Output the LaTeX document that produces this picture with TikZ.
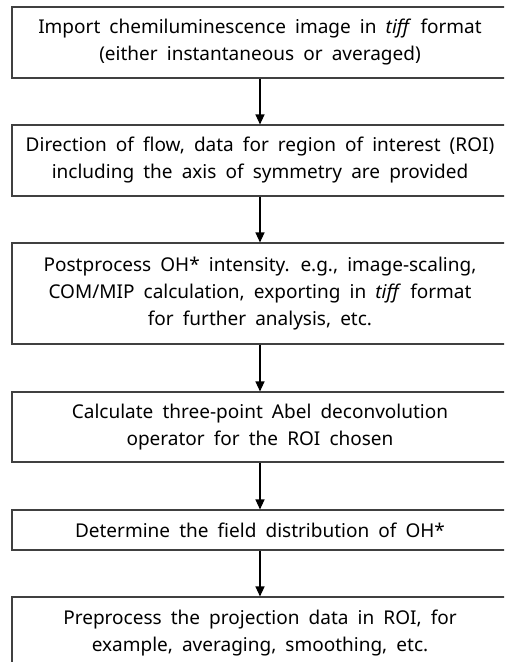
\documentclass[tikz,border=0pt]{standalone}
\usepackage{fontspec}
\setmainfont{Noto Sans}
\usetikzlibrary{arrows.meta}
\newcommand\myboxfont{\fontsize{19}{27}\selectfont\spaceskip=0.48em plus 0.1em\relax}
\tikzset{
  x=1pt,y=-1pt,
  stepbox/.style={draw=black!75, line width=1.1pt, minimum width=496pt, inner sep=0pt,
    align=center, font=\myboxfont},
  flow/.style={draw=black, line width=1.3pt, -{Triangle[width=9pt,length=10pt]}}
}
\begin{document}
\begin{tikzpicture}
\useasboundingbox (0,0) rectangle (504,662);
\clip (0,0) rectangle (504,662);
\fill[white] (0,0) rectangle (504,662);
\node[stepbox, minimum height=71pt] (b1) at (260,42.5) {Import chemiluminescence image in \textit{tiff} format\\(either instantaneous or averaged)};
\node[stepbox, minimum height=71pt] (b2) at (260,160.5) {Direction of flow, data for region of interest (ROI)\\including the axis of symmetry are provided};
\node[stepbox, minimum height=101pt] (b3) at (260,293.5) {Postprocess OH* intensity. e.g., image-scaling,\\COM/MIP calculation, exporting in \textit{tiff} format\\for further analysis, etc.};
\node[stepbox, minimum height=70pt] (b4) at (260,427) {Calculate three-point Abel deconvolution\\operator for the ROI chosen};
\node[stepbox, minimum height=40pt] (b5) at (260,530) {Determine the field distribution of OH*};
\node[stepbox, minimum height=72pt] (b6) at (260,633) {Preprocess the projection data in ROI, for\\example, averaging, smoothing, etc.};
\draw[flow] (b1) -- (b2);
\draw[flow] (b2) -- (b3);
\draw[flow] (b3) -- (b4);
\draw[flow] (b4) -- (b5);
\draw[flow] (b5) -- (b6);
\end{tikzpicture}
\end{document}
